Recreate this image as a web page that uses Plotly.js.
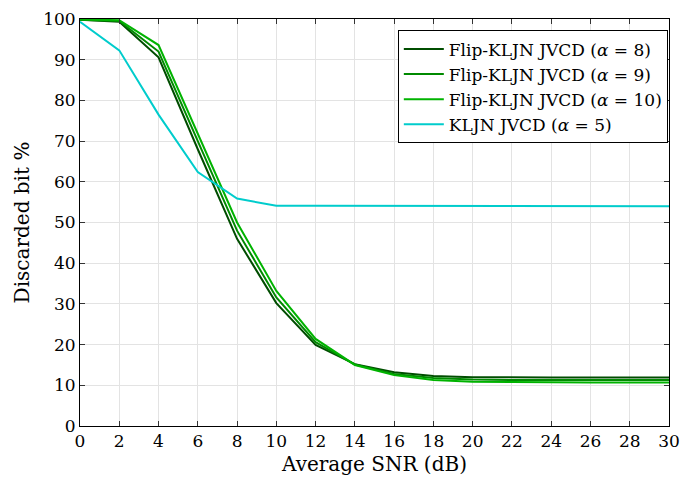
<!DOCTYPE html>
<html><head><meta charset="utf-8">
<script src="https://cdn.plot.ly/plotly-3.0.1.min.js"></script>
<style>body{margin:0;background:#fff}#c{width:694px;height:487px}</style>
</head><body><div id="c"></div>
<script>
const snr = [0,2,4,6,8,10,12,14,16,18,20,22,24,26,28,30];
const flip8  = [99.8,99.3,90.6,68.0,46.0,30.2,19.9,15.2,13.2,12.3,12.0,11.9,11.9,11.9,11.9,11.9];
const flip9  = [99.8,99.5,92.0,70.0,48.0,31.6,20.6,15.1,12.8,11.8,11.4,11.3,11.3,11.3,11.3,11.3];
const flip10 = [99.9,99.7,93.6,72.0,50.0,33.2,21.4,15.0,12.5,11.3,10.9,10.8,10.7,10.7,10.7,10.7];
const kljn5  = [99.3,92.3,76.5,62.4,55.9,54.1,54.1,54.1,54.1,54.1,54.1,54.1,54.1,54.0,54.0,54.0];
const names = ['Flip-KLJN JVCD (<i>α</i> = 8)','Flip-KLJN JVCD (<i>α</i> = 9)','Flip-KLJN JVCD (<i>α</i> = 10)','KLJN JVCD (<i>α</i> = 5)'];
const colors = ['#004d00','#008a00','#00b300','#00cccc'];
const ys = [flip8, flip9, flip10, kljn5];
const traces = ys.map((y,i)=>({x:snr,y:y,type:'scatter',mode:'lines',name:names[i],line:{color:colors[i],width:2}}));
const font = {family:'DejaVu Serif', color:'#000', size:17};
const axis = {showline:true, linecolor:'#000', linewidth:1, mirror:'ticks', ticks:'inside', ticklen:5, tickcolor:'#333',
  showgrid:true, gridcolor:'#e3e3e3', zeroline:false, tickfont:{size:17}};
Plotly.newPlot('c', traces, {
  width:694, height:487, font:font, paper_bgcolor:'#fff', plot_bgcolor:'#fff',
  margin:{l:80, r:25, t:19, b:61},
  xaxis:Object.assign({}, axis, {range:[0,30], dtick:2, tick0:0, title:{text:'Average SNR (dB)', font:{size:20}, standoff:6}}),
  yaxis:Object.assign({}, axis, {range:[0,100], dtick:10, tick0:0, title:{text:'Discarded bit %', font:{size:20}, standoff:8}}),
  legend:{x:0.998, y:0.972, xanchor:'right', yanchor:'top', bordercolor:'#000', borderwidth:1, bgcolor:'#fff', font:{size:17}, itemwidth:40, tracegroupgap:0}
}, {displayModeBar:false, staticPlot:true});
</script></body></html>
